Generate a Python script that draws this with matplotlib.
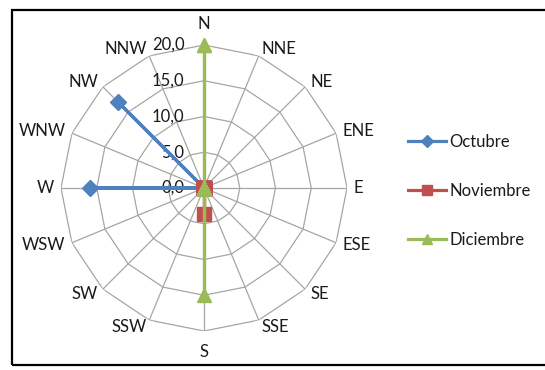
import matplotlib.pyplot as plt
import numpy as np
from matplotlib.patches import Rectangle
from matplotlib.lines import Line2D

plt.rcParams['font.family'] = ['Lato', 'DejaVu Sans']

# 16 direcciones de viento
direcciones = ['N', 'NNE', 'NE', 'ENE', 'E', 'ESE', 'SE', 'SSE',
               'S', 'SSW', 'SW', 'WSW', 'W', 'WNW', 'NW', 'NNW']
octubre = [0, 0, 0, 0, 0, 0, 0, 0, 0, 0, 0, 0, 16.0, 0, 17.0, 0]
noviembre = [0, 0, 0, 0, 0, 0, 0, 0, 3.7, 0, 0, 0, 0, 0, 0, 0]
diciembre = [20.0, 0, 0, 0, 0, 0, 0, 0, 15.0, 0, 0, 0, 0, 0, 0, 0]
series = ['Octubre', 'Noviembre', 'Diciembre']
anillos = [0, 5, 10, 15, 20]
etiquetas_anillos = ['0,0', '5,0', '10,0', '15,0', '20,0']

colores = ['#4F81BD', '#C0504D', '#9BBB59']
marcadores = ['D', 's', '^']
tam_marcador = [8, 9.5, 10]
txt = '#1A1A1A'

fig = plt.figure(figsize=(5.45, 3.70), dpi=100)
ax = fig.add_axes([0.1119, 0.1054, 0.5248, 0.773], projection='polar')
ax.set_theta_zero_location('N')
ax.set_theta_direction(-1)
ax.set_ylim(0, 20)
ax.grid(False)
ax.spines['polar'].set_visible(False)
ax.set_xticks([])
ax.set_yticks([])
ax.patch.set_alpha(0)

ang = np.linspace(0, 2 * np.pi, len(direcciones), endpoint=False)
ang_c = np.append(ang, ang[0])

# rejilla poligonal y radios
for r in anillos[1:]:
    ax.plot(ang_c, [r] * len(ang_c), color='#A6A6A6', lw=0.9, zorder=1)
for a in ang:
    ax.plot([a, a], [0, 20], color='#A6A6A6', lw=0.9, zorder=1)

# etiquetas de direccion, ancladas al vertice exterior
for a, d in zip(ang, direcciones):
    s, c = np.sin(a), np.cos(a)
    if abs(s) < 1e-6:
        ha, dx, dy = 'center', 0, 15 * np.sign(c)
    else:
        ha = 'left' if s > 0 else 'right'
        dx, dy = 5 * s, 5 * c
    ax.annotate(d, xy=(a, 20), xytext=(dx, dy), textcoords='offset points',
                ha=ha, va='center', fontsize=12, color=txt)

# etiquetas del eje radial
for r, t in zip(anillos, etiquetas_anillos):
    ax.annotate(t, xy=(0, r), xytext=(-14, 0), textcoords='offset points',
                ha='right', va='center', fontsize=12, color=txt)

for vals, c, m, ms in zip([octubre, noviembre, diciembre], colores,
                          marcadores, tam_marcador):
    v = np.append(vals, vals[0])
    ax.plot(ang_c, v, color=c, lw=2.3, marker=m, markersize=ms,
            markeredgecolor=c, zorder=3, clip_on=False)

# leyenda
handles = [Line2D([], [], color=c, lw=2.3, marker=m, markersize=ms * 0.75)
           for c, m, ms in zip(colores, marcadores, tam_marcador)]
fig.legend(handles, series, loc='center left', bbox_to_anchor=(0.721, 0.484),
           frameon=False, fontsize=12, labelspacing=2.0, handlelength=2.3,
           handletextpad=0.2, labelcolor=txt)

# marco del grafico
fig.patches.append(Rectangle((0.022, 0.0135), 1.1, 0.96, transform=fig.transFigure,
                             fill=False, edgecolor='black', lw=1.6, clip_on=False))

fig.savefig('out.png', dpi=100)
